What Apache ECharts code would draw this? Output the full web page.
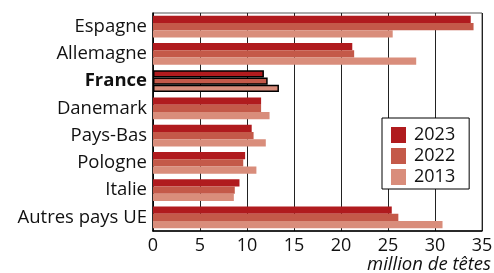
<!DOCTYPE html>
<html>
<head>
<meta charset="utf-8">
<script src="https://cdn.jsdelivr.net/npm/echarts@6/dist/echarts.min.js"></script>
<style>
  html, body { margin: 0; padding: 0; background: #fff; }
  #chart { width: 494px; height: 273px; }
</style>
</head>
<body>
<div id="chart"></div>
<script>
const countries = ['Espagne', 'Allemagne', 'France', 'Danemark', 'Pays-Bas', 'Pologne', 'Italie', 'Autres pays UE']
const years = ['2023', '2022', '2013']
const values2023 = [33.8, 21.2, 11.8, 11.5, 10.5, 9.8, 9.2, 25.4]
const values2022 = [34.1, 21.4, 12.2, 11.5, 10.7, 9.6, 8.7, 26.1]
const values2013 = [25.5, 28.0, 13.4, 12.4, 12.0, 11.0, 8.6, 30.8]
const unitLabel = 'million de têtes'

const colorList = ['#b01b1e', '#c45949', '#d98d7b']
const fontName = 'Open Sans'

const chart = echarts.init(document.getElementById('chart'))

// France gets a black outline
const toData = arr => arr.map((v, i) => countries[i] === 'France'
  ? { value: v, itemStyle: { borderColor: '#000', borderWidth: 1.5 } }
  : v)

const makeSeries = (name, arr, idx) => ({
  name: name,
  type: 'bar',
  data: toData(arr),
  barGap: 0,
  barCategoryGap: '20%',
  itemStyle: { color: colorList[idx] }
})

const option = {
  animation: false,
  textStyle: { fontFamily: fontName },
  // unit label sits under the axis, right aligned
  title: {
    text: unitLabel,
    right: 3,
    bottom: -1,
    padding: 0,
    textStyle: {
      fontStyle: 'italic',
      fontWeight: 'normal',
      fontSize: 18.5,
      color: '#111',
      fontFamily: fontName
    }
  },
  grid: {
    left: 153, right: 12, top: 13, bottom: 42,
    outerBoundsMode: 'none', containLabel: false,
    show: true, borderColor: '#555', borderWidth: 1
  },
  legend: {
    data: years,
    orient: 'vertical',
    left: 382,
    top: 118,
    icon: 'rect',
    itemWidth: 15,
    itemHeight: 16,
    itemGap: 3,
    padding: [8, 14, 3, 9],
    backgroundColor: '#fff',
    borderColor: '#000',
    borderWidth: 1,
    textStyle: { fontSize: 18, color: '#111', fontFamily: fontName, padding: [0, 0, 0, 3] }
  },
  xAxis: {
    type: 'value',
    min: 0,
    max: 35,
    interval: 5,
    axisLine: { show: true, lineStyle: { color: '#000', width: 1.5 } },
    axisTick: { show: false },
    axisLabel: { fontSize: 18, color: '#111', margin: 6 },
    splitLine: { show: true, lineStyle: { color: '#222', width: 1 } }
  },
  yAxis: {
    type: 'category',
    data: countries,
    inverse: true,
    axisLine: { show: true, lineStyle: { color: '#000', width: 1.5 } },
    axisTick: { show: false },
    axisLabel: {
      fontSize: 18.5,
      color: '#111',
      margin: 6,
      formatter: v => v === 'France' ? '{b|' + v + '}' : v,
      rich: { b: { fontWeight: 'bold', fontSize: 18.5, color: '#111' } }
    }
  },
  series: [
    makeSeries(years[0], values2023, 0),
    makeSeries(years[1], values2022, 1),
    makeSeries(years[2], values2013, 2)
  ]
}

chart.setOption(option)
</script>
</body>
</html>
